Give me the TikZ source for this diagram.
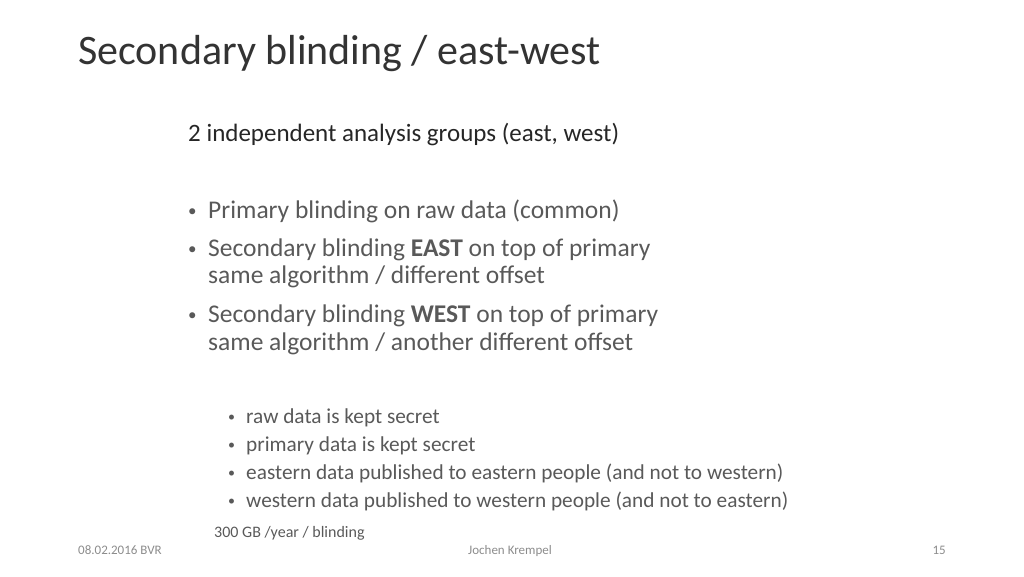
\documentclass[tikz,border=0pt]{standalone}
\usepackage{fontspec}
\setmainfont{Carlito}
\usetikzlibrary{positioning}
\definecolor{titlegray}{HTML}{333333}
\definecolor{headgray}{HTML}{262626}
\definecolor{bodygray}{HTML}{595959}
\definecolor{footgray}{HTML}{8C8C8C}
\tikzset{
  txt/.style={anchor=base west, inner sep=0pt},
  bigtxt/.style={txt, font=\fontsize{25.5}{30}\selectfont, text=bodygray},
  smalltxt/.style={txt, font=\fontsize{21.3}{25}\selectfont, text=bodygray},
  dot/.style={txt, font=\fontsize{17}{20}\selectfont, text=bodygray},
  foot/.style={inner sep=0pt, anchor=base, font=\fontsize{13}{15}\selectfont, text=footgray}
}
\begin{document}
\begin{tikzpicture}[x=1pt, y=-1pt]
  \useasboundingbox (0,0) rectangle (1024,576);
  \node[txt, font=\fontsize{42}{48}\selectfont, text=titlegray, name=title] at (78,64) {Secondary blinding / east-west};
  \node[txt, font=\fontsize{25}{30}\selectfont, text=headgray, name=groups] at (188,141) {2 independent analysis groups (east, west)};

  % main bullets
  \foreach \y in {216,254,320}
    \node[dot] at (188,\y) {\textbullet};
  \node[bigtxt, name=primary] at (208,218) {Primary blinding on raw data (common)};
  \node[bigtxt, name=east] at (208,256) {Secondary blinding \textbf{EAST} on top of primary};
  \node[bigtxt, name=east2] at (208,283) {same algorithm / different offset};
  \node[bigtxt, name=west] at (208,322) {Secondary blinding \textbf{WEST} on top of primary};
  \node[bigtxt, name=west2] at (208,350) {same algorithm / another different offset};

  % sub bullets
  \foreach \y in {421,449,477,505}
    \node[dot, font=\fontsize{14}{16}\selectfont] at (228,\y) {\textbullet};
  \node[smalltxt, name=raw] at (246,423) {raw data is kept secret};
  \node[smalltxt, name=prim] at (246,451) {primary data is kept secret};
  \node[smalltxt, name=eastern] at (246,479) {eastern data published to eastern people (and not to western)};
  \node[smalltxt, name=western] at (246,507) {western data published to western people (and not to eastern)};

  \node[txt, font=\fontsize{16}{18}\selectfont, text=bodygray, name=volume] at (214,537) {300 GB /year / blinding};

  % footer
  \node[foot, anchor=base west, name=date] at (78,554) {08.02.2016 BVR};
  \node[foot, name=author] at (510,554) {Jochen Krempel};
  \node[foot, anchor=base east, name=page] at (946,554) {15};
\end{tikzpicture}
\end{document}
